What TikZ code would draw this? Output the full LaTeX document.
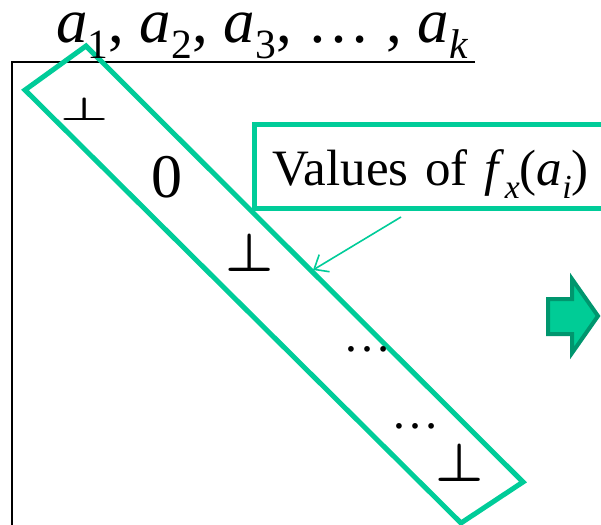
\RequirePackage{fix-cm}
\documentclass[tikz,border=0pt]{standalone}
\usepackage{fontspec}
\setmainfont{Liberation Serif}
\usetikzlibrary{arrows.meta,calc}
\definecolor{bandgreen}{RGB}{0,204,153}
\definecolor{arrowfill}{RGB}{0,204,150}
\definecolor{arrowedge}{RGB}{0,150,110}
\newcommand\lowsub[1]{\raisebox{-0.25em}{\scalebox{0.66}{#1}}}
\newcommand\botsym{{\boldmath$\perp$}}
\tikzset{
  frame/.style={line width=2.2pt},
  band/.style={draw=bandgreen,line width=5pt},
  head/.style={inner sep=0pt,anchor=base west,text height=30pt,font=\fontsize{63}{70}\selectfont},
  entry/.style={inner sep=0pt,anchor=base,font=\fontsize{48}{52}\selectfont},
  bottom/.style={entry,font=\fontsize{54}{58}\selectfont},
  callout/.style={draw=bandgreen,line width=5pt,anchor=north west,inner xsep=18pt,inner ysep=0pt,
    text width=400pt,text height=61pt,text depth=23pt,align=left,font=\fontsize{51}{60}\selectfont},
  pointer/.style={draw=bandgreen,line width=1.6pt,-{Straight Barb[length=12pt,width=20pt]}},
  blockarrow/.style={fill=arrowfill,draw=arrowedge,line width=4pt},
}

\begin{document}
\begin{tikzpicture}[x=1pt,y=-1pt]
  \clip (0,0) rectangle (601,524);
  \draw[frame] (475,62) -- (12,62) -- (12,530);
  \draw[band] (25,90) -- (86,46) -- (523,482) -- (461,523) -- cycle;
  \node[head] (cols) at (56,43) {\textit{a}\lowsub{1}, \textit{a}\lowsub{2}, \textit{a}\lowsub{3}, … , \textit{a}\lowsub{\textit{k}}};
  \node[bottom] (p1) at (85,121) {\scalebox{1}[0.6]{\botsym}};
  \node[entry,font=\fontsize{62}{66}\selectfont] (zero) at (167,197) {0};
  \node[bottom] (p2) at (250,271) {\botsym};
  \node[entry] (dots1) at (367,351) {…};
  \node[entry] (dots2) at (415,428) {…};
  \node[bottom] (p3) at (460,481) {\botsym};
  \node[callout] (vals) at (252,122) {Values of \textit{f}\lowsub{\textit{x}}(\textit{a}\lowsub{\textit{i}})};
  \coordinate (hit) at (313,270);
  \draw[pointer] ($(vals.south west)+(149,6)$) -- (hit);
  \draw[blockarrow] (548,299) -- (572,299) -- (572,279) -- (598,316) -- (572,353) -- (572,334) -- (548,334) -- cycle;
\end{tikzpicture}
\end{document}
